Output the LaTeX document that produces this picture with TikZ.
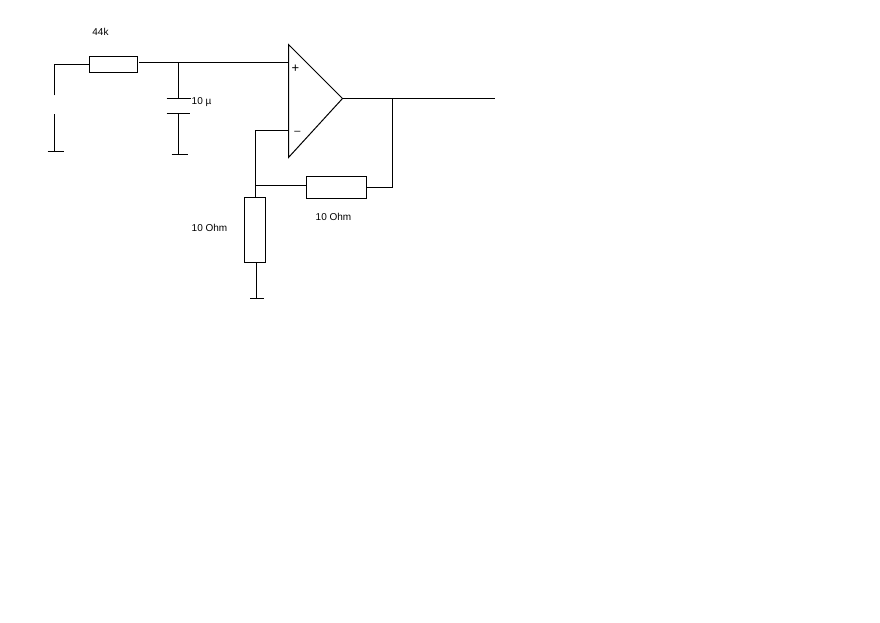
\documentclass[tikz,border=0pt]{standalone}
\usepackage{fontspec}
\setmainfont{Liberation Sans}
\tikzstyle{res} = [rectangle, draw, line width=1pt, fill=white, inner sep=0pt]
\tikzstyle{lbl} = [rectangle, inner sep=0pt, font=\fontsize{10}{12}\selectfont]
\tikzstyle{line} = [draw, line width=1pt]
\begin{document}
\begin{tikzpicture}[x=1pt, y=-1pt, node distance=30pt]
    \useasboundingbox (-0.5,-0.5) rectangle (879.5,622.5);

    % opamp corners
    \coordinate (optop) at (288,44);
    \coordinate (opout) at (342,98);
    \coordinate (opbot) at (288,157);
    \coordinate (plusin) at (288,62);
    \coordinate (minusin) at (288,130);
    \coordinate (outend) at (494,98);

    % resistors
    \node[res, minimum width=48pt, minimum height=16pt] (rin) at (113,64) {};
    \node[res, minimum width=60pt, minimum height=22pt] (rfb) at (336,187) {};
    \node[res, minimum width=21pt, minimum height=65pt] (rgnd) at (254.5,229.5) {};

    % input terminal
    \coordinate (intop) at (54,95);
    \coordinate (inbot) at (54,114);
    \coordinate (ingnd) at (54,151);
    \coordinate (inl) at (47,151);
    \coordinate (inr) at (63,151);

    % capacitor
    \coordinate (capjoin) at (178,62);
    \coordinate (capa) at (178,98);
    \coordinate (capb) at (178,113);
    \coordinate (capgnd) at (178,154);

    % feedback points
    \coordinate (fbout) at (391.5,98);
    \coordinate (fbjoin) at (254.5,185);
    \coordinate (rgndend) at (255.5,298);

    % labels
    \node[lbl, above of=rin, node distance=33pt, xshift=-13pt] (rinlabel) {44k};
    \node[lbl, anchor=west] (caplabel) at (191,101.5) {10 µ};
    \node[lbl, left of=rgnd, node distance=45.5pt, yshift=2.5pt] (rgndlabel) {10 Ohm};
    \node[lbl, below of=rfb, node distance=29.5pt, xshift=-3pt] (rfblabel) {10 Ohm};
    \node[lbl, font=\fontsize{13}{14}\selectfont] (plus) at (295,68) {+};
    \node[lbl, font=\fontsize{11}{12}\selectfont] (minus) at (297,132.5) {--};

    % opamp
    \draw [line] (optop) -- (opout) -- (opbot) -- cycle;

    % lines
    \draw [line] (intop) |- (rin.west);
    \draw [line] (inbot) -- (ingnd);
    \draw [line] (inl) -- (inr);
    \draw [line] ([xshift=1pt]rin.east |- plusin) -- (plusin);
    \draw [line] (capjoin) -- (capa);
    \draw [line] ([xshift=-12pt]capa) -- ([xshift=12pt]capa);
    \draw [line] ([xshift=-12pt]capb) -- ([xshift=11pt]capb);
    \draw [line] (capb) -- (capgnd);
    \draw [line] ([xshift=-7pt]capgnd) -- ([xshift=9pt]capgnd);
    \draw [line] (opout) -- (outend);
    \draw [line] (fbout) |- (rfb.east);
    \draw [line] (minusin) -| (rgnd.north);
    \draw [line] (fbjoin) -- (fbjoin -| rfb.west);
    \draw [line] (rgnd.south -| rgndend) -- (rgndend);
    \draw [line] ([xshift=-6pt]rgndend) -- ([xshift=8pt]rgndend);
\end{tikzpicture}
\end{document}
